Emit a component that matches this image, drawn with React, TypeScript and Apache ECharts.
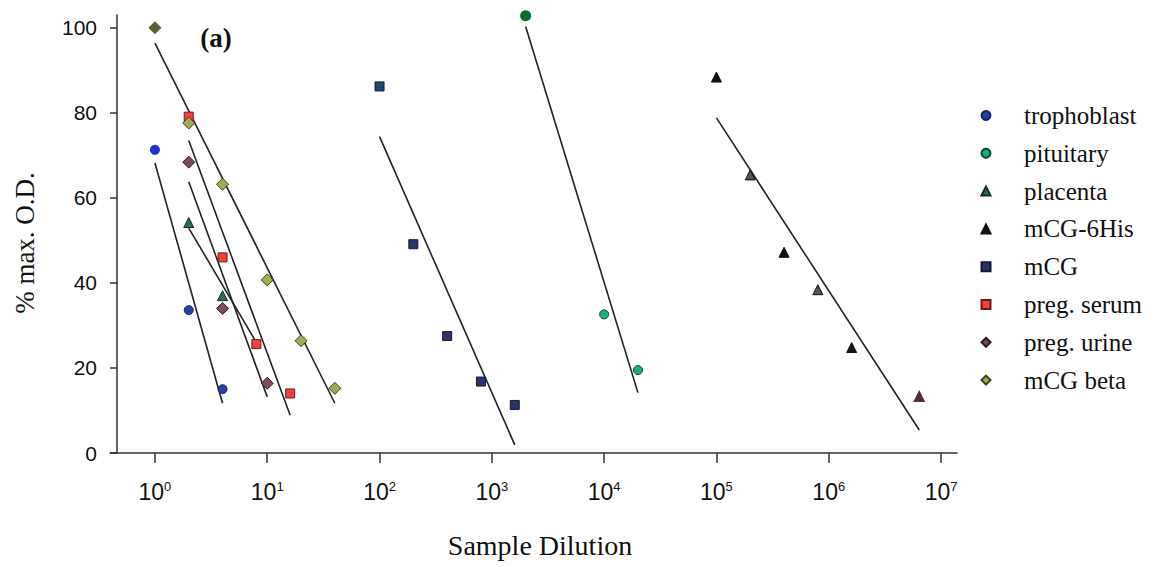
import React, { useEffect, useRef } from "react";
import * as echarts from "echarts";

// ---------- data ----------
const xTickValues = [1, 10, 100, 1000, 10000, 100000, 1000000, 10000000];
const yTickValues = [0, 20, 40, 60, 80, 100];

const seriesNames = [
  "trophoblast",
  "pituitary",
  "placenta",
  "mCG-6His",
  "mCG",
  "preg. serum",
  "preg. urine",
  "mCG beta",
];

const trophoblastX = [1, 2, 4];
const trophoblastY = [71.3, 33.6, 15.0];
const pituitaryX = [2000, 10000, 20000];
const pituitaryY = [102.8, 32.6, 19.5];
const placentaX = [2, 4];
const placentaY = [54.2, 37.0];
const mcg6HisX = [100000, 200000, 400000, 800000, 1600000, 6400000];
const mcg6HisY = [88.4, 65.4, 47.2, 38.4, 24.8, 13.4];
const mcgX = [100, 200, 400, 800, 1600];
const mcgY = [86.2, 49.1, 27.5, 16.8, 11.3];
const pregSerumX = [2, 4, 8, 16];
const pregSerumY = [79.1, 46.0, 25.6, 14.0];
const pregUrineX = [2, 4, 10];
const pregUrineY = [68.4, 34.0, 16.4];
const mcgBetaX = [1, 2, 4, 10, 20, 40];
const mcgBetaY = [100, 77.6, 63.2, 40.7, 26.4, 15.2];

// fitted lines: [x0, y0, x1, y1]
const fitTrophoblast = [1, 68.2, 4, 11.7];
const fitPituitary = [2000, 100.3, 20000, 14.2];
const fitPlacenta = [2, 52.9, 8, 26.0];
const fitMcg6His = [100000, 78.8, 6400000, 5.4];
const fitMcg = [100, 74.4, 1600, 1.9];
const fitPregSerum = [2, 73.5, 16, 8.9];
const fitPregUrine = [2, 63.8, 10, 13.2];
const fitMcgBeta = [1, 96.4, 40, 11.7];

// ---------- styles ----------
const SANS = '"Liberation Sans", Arial, sans-serif';
const SERIF = '"Liberation Serif", "Times New Roman", serif';
const INK = "#111111";

type Sty = { symbol: string; size: number; color: string; border: string };
const styles: Sty[] = [
  { symbol: "circle", size: 9, color: "#2b3f9e", border: "#1a2060" },
  { symbol: "circle", size: 9, color: "#1fae7a", border: "#0d4a30" },
  { symbol: "triangle", size: 10, color: "#2f6b50", border: "#152a20" },
  { symbol: "triangle", size: 10, color: "#111111", border: "#111111" },
  { symbol: "rect", size: 9, color: "#2c3468", border: "#151a30" },
  { symbol: "rect", size: 9, color: "#f04040", border: "#6a1a1a" },
  { symbol: "diamond", size: 12, color: "#7b4a62", border: "#2a1a22" },
  { symbol: "diamond", size: 12, color: "#a3ab55", border: "#3a3f1a" },
];

// per-point overrides (index in series -> style)
const overrides: Record<string, Record<number, any>> = {
  trophoblast: { 0: { itemStyle: { color: "#1f2fcc", borderWidth: 0, opacity: 1 }, symbolSize: 10 } },
  pituitary: { 0: { itemStyle: { color: "#0b6a2c", borderWidth: 0, opacity: 1 }, symbolSize: 11 } },
  "mCG-6His": {
    1: { itemStyle: { color: "#555555", borderColor: "#111", opacity: 1 } },
    3: { itemStyle: { color: "#555555", borderColor: "#111", opacity: 1 } },
    5: { itemStyle: { color: "#5a2a3c", borderWidth: 0, opacity: 1 }, symbolSize: 12 },
  },
  mCG: { 0: { itemStyle: { color: "#1f4a72", opacity: 1 } } },
  "mCG beta": { 0: { itemStyle: { color: "#59612c", borderWidth: 0, opacity: 1 }, symbolSize: 13 } },
};

const pointsX = [trophoblastX, pituitaryX, placentaX, mcg6HisX, mcgX, pregSerumX, pregUrineX, mcgBetaX];
const pointsY = [trophoblastY, pituitaryY, placentaY, mcg6HisY, mcgY, pregSerumY, pregUrineY, mcgBetaY];
const fits = [fitTrophoblast, fitPituitary, fitPlacenta, fitMcg6His, fitMcg, fitPregSerum, fitPregUrine, fitMcgBeta];

export default function App() {
  const ref = useRef<HTMLDivElement>(null);
  useEffect(() => {
    if (!ref.current) return;
    const chart = echarts.init(ref.current, undefined, { renderer: "svg" });

    const lineSeries = fits.map((f, i) => ({
      type: "line",
      name: seriesNames[i] + " fit",
      data: [
        [f[0], f[1]],
        [f[2], f[3]],
      ],
      symbol: "none",
      lineStyle: { color: "#222222", width: 1.6 },
      silent: true,
      z: 2,
    }));

    const scatterSeries = seriesNames.map((name, i) => {
      const st = styles[i];
      const ov = overrides[name] || {};
      return {
        type: "scatter",
        name,
        symbol: st.symbol,
        symbolSize: st.size,
        itemStyle: { color: st.color, borderColor: st.border, borderWidth: 1, opacity: 1 },
        data: pointsX[i].map((x, j) => {
          const o = ov[j];
          const base: any = { value: [x, pointsY[i][j]] };
          if (o) {
            if (o.symbolSize) base.symbolSize = o.symbolSize;
            if (o.itemStyle) base.itemStyle = o.itemStyle;
          }
          return base;
        }),
        z: 3,
      };
    });

    chart.setOption({
      animation: false,
      backgroundColor: "#ffffff",
      grid: { left: 110, right: 201, top: 15, bottom: 114, containLabel: false },
      xAxis: {
        type: "log",
        logBase: 10,
        min: 0.398,
        max: 13870000,
        axisLine: { onZero: false, lineStyle: { color: "#333", width: 1.5 } },
        axisTick: {
          show: true,
          length: 10,
          inside: false,
          lineStyle: { color: "#333", width: 1.5 },
          customValues: xTickValues,
        },
        axisLabel: {
          margin: 27,
          customValues: xTickValues,
          formatter: (v: number) => `{b|10}{s|${Math.round(Math.log10(v))}}`,
          rich: {
            b: { fontSize: 23, fontFamily: SANS, color: INK, lineHeight: 24 },
            s: { fontSize: 13, fontFamily: SANS, color: INK, lineHeight: 13, verticalAlign: "top" },
          },
        },
        splitLine: { show: false },
      },
      yAxis: {
        type: "value",
        min: 0,
        max: 103,
        offset: -7,
        axisLine: { show: true, lineStyle: { color: "#333", width: 1.5 } },
        axisTick: {
          show: true,
          length: 7,
          lineStyle: { color: "#333", width: 1.5 },
          customValues: yTickValues,
        },
        axisLabel: {
          margin: 20,
          customValues: yTickValues,
          fontSize: 21,
          fontFamily: SANS,
          color: INK,
        },
        splitLine: { show: false },
      },
      legend: {
        data: seriesNames,
        orient: "vertical",
        left: 975.5,
        top: 98,
        itemWidth: 9,
        itemHeight: 9,
        itemGap: 12.8,
        selectedMode: false,
        textStyle: {
          fontFamily: SERIF,
          fontSize: 25,
          lineHeight: 24,
          color: INK,
          padding: [0, 0, 0, 28.5],
        },
      },
      graphic: [
        {
          type: "text",
          x: 25,
          y: 243,
          rotation: Math.PI / 2,
          style: {
            text: "% max. O.D.",
            font: `27px ${SERIF}`,
            align: "center",
            verticalAlign: "middle",
            fill: INK,
          },
        },
        {
          type: "text",
          x: 216,
          y: 38,
          style: {
            text: "(a)",
            font: `bold 27px ${SERIF}`,
            align: "center",
            verticalAlign: "middle",
            fill: INK,
          },
        },
        {
          type: "text",
          x: 540,
          y: 545,
          style: {
            text: "Sample Dilution",
            font: `28px ${SERIF}`,
            align: "center",
            verticalAlign: "middle",
            fill: INK,
          },
        },
      ],
      series: [...lineSeries, ...scatterSeries],
    });

    return () => chart.dispose();
  }, []);

  return (
    <div
      ref={ref}
      style={{ position: "absolute", left: 0, top: 0, width: 1158, height: 567 }}
    />
  );
}
